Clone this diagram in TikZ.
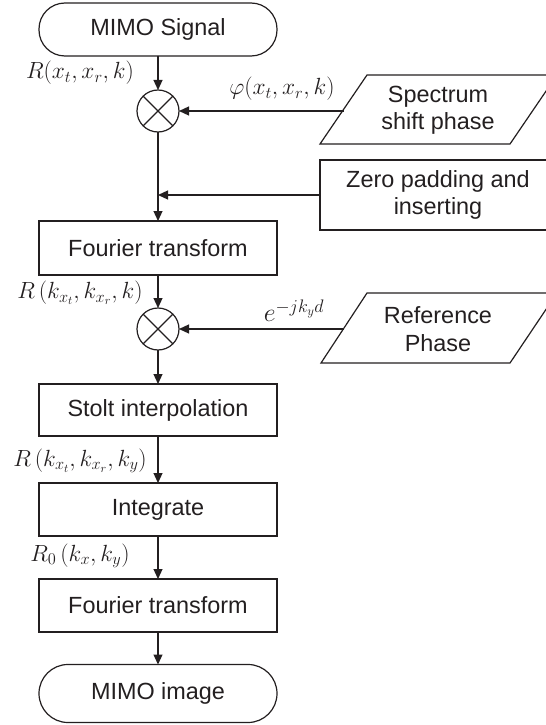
\RequirePackage{fix-cm}
\documentclass[tikz,border=0pt]{standalone}
\usepackage[no-math]{fontspec}
\setmainfont{Liberation Sans}
\usetikzlibrary{arrows.meta}
\definecolor{ink}{HTML}{231F20}
\begin{document}
\begin{tikzpicture}[x=1bp,y=-1bp,
  every node/.style={inner sep=0pt, outer sep=0pt},
  line/.style={draw=ink, line width=1.2bp},
  arr/.style={line, -{Triangle[length=10bp,width=9bp]}},
  box/.style={line, rectangle, minimum width=238bp, minimum height=53bp,
    font=\fontsize{23.5}{26}\selectfont, text=ink, align=center},
  pill/.style={box, rounded corners=26bp},
  txt/.style={font=\fontsize{23.5}{27}\selectfont, text=ink, align=center},
  lbl/.style={font=\fontsize{23.5}{28}\selectfont, text=ink},
  mult/.style={line, circle, minimum size=42bp}
]
\useasboundingbox (0,0) rectangle (546,725);
\clip (0,0) rectangle (546,725);

% main column
\node[pill] (sig) at (158,29.5) {MIMO Signal};
\node[mult] (m1) at (158,111) {};
\node[box, minimum height=54bp] (ft1) at (158,248) {Fourier transform};
\node[mult] (m2) at (158,329) {};
\node[box, minimum height=52bp] (stolt) at (158,410) {Stolt interpolation};
\node[box] (integ) at (158,509.5) {Integrate};
\node[box] (ft2) at (158,605.5) {Fourier transform};
\node[pill, minimum height=58bp, rounded corners=29bp] (img) at (158,693.5) {MIMO image};

% crosses in multipliers
\draw[line] (m1.north west) -- (m1.south east) (m1.north east) -- (m1.south west);
\draw[line] (m2.north west) -- (m2.south east) (m2.north east) -- (m2.south west);

% side inputs
\draw[line] (320,144) -- (510,144) -- (557,75) -- (367,75) -- cycle;
\node[txt] (spec) at (438,110) {Spectrum\\shift phase};
\coordinate (specL) at (343.5,111);

\node[box, minimum width=236bp, minimum height=70bp, font=\fontsize{23.5}{27}\selectfont] (zero) at (438,195) {Zero padding and\\inserting};

\draw[line] (321,363) -- (510,363) -- (557,293) -- (367,293) -- cycle;
\node[txt, font=\fontsize{23.5}{28}\selectfont] (ref) at (438,329) {Reference\\Phase};
\coordinate (refL) at (344,329);

% labels
\node[lbl] (l1) at (80,73) {$R(x_t,x_r,k)$};
\node[lbl] (l2) at (80,293) {$R\left(k_{x_t},k_{x_r},k\right)$};
\node[lbl] (l3) at (80,461) {$R\left(k_{x_t},k_{x_r},k_y\right)$};
\node[lbl] (l4) at (80,556) {$R_0\left(k_x,k_y\right)$};
\node[lbl] (lphi) at (282,89) {$\varphi(x_t,x_r,k)$};
\node[lbl, font=\fontsize{26}{30}\selectfont] (lexp) at (294,311) {$e^{-jk_yd}$};

% connectors
\draw[arr] (sig) -- (m1);
\draw[arr] (specL) -- (specL -| m1.east);
\draw[arr] (m1) -- (ft1);
\draw[arr] (zero) -- (zero -| m1);
\draw[arr] (ft1) -- (m2);
\draw[arr] (refL) -- (refL -| m2.east);
\draw[arr] (m2) -- (stolt);
\draw[arr] (stolt) -- (integ);
\draw[arr] (integ) -- (ft2);
\draw[arr] (ft2) -- (img);
\end{tikzpicture}
\end{document}
